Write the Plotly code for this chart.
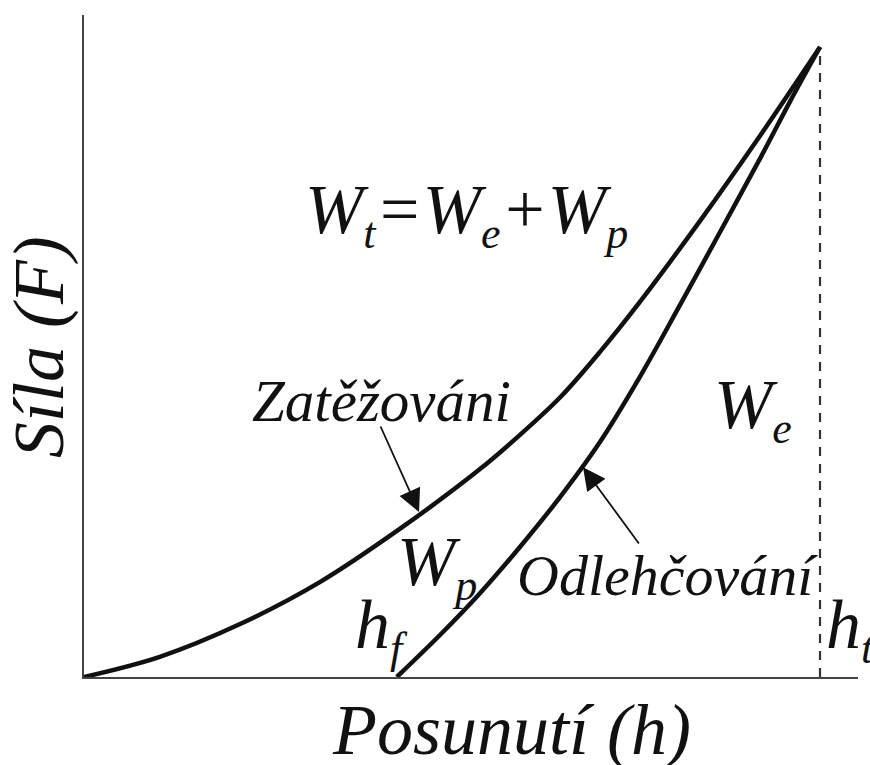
import plotly.graph_objects as go

# Indentation test: force vs. displacement (normalised units)
h_loading = [0.000, 0.103, 0.212, 0.321, 0.429, 0.538, 0.592, 0.647, 0.701,
             0.755, 0.837, 0.919, 1.000]
F_loading = [0.000, 0.032, 0.084, 0.151, 0.235, 0.330, 0.384, 0.444, 0.516,
             0.595, 0.724, 0.860, 1.000]

h_unloading = [0.425, 0.484, 0.538, 0.592, 0.647, 0.701, 0.755, 0.810, 0.864,
               0.919, 0.959, 1.000]
F_unloading = [0.000, 0.067, 0.133, 0.206, 0.286, 0.373, 0.476, 0.591, 0.706,
               0.824, 0.913, 1.000]

h_max = 1.0
F_max = 1.0
X_RANGE = [0, 1.0516]
Y_RANGE = [0, 1.0508]

x_title = "Posunutí (h)"
y_title = "Síla (F)"
loading_label = "Zatěžováni"
unloading_label = "Odlehčování"

SERIF = "Liberation Serif, Times New Roman, serif"
INK = "#111111"
SUB_SIZE = 44


def sub(s):
    return f'<sub><span style="font-size:{SUB_SIZE}px">{s}</span></sub>'


work_formula = f"W{sub('t')}=W{sub('e')}+W{sub('p')}"

fig = go.Figure()

fig.add_trace(go.Scatter(
    x=[h_max, h_max], y=[0, F_max], mode="lines",
    line=dict(color="#333333", width=2.2, dash="9px,8px"),
    hoverinfo="skip", cliponaxis=False))

fig.add_trace(go.Scatter(
    x=h_loading, y=F_loading, mode="lines",
    line=dict(color=INK, width=4.5, shape="spline", smoothing=1.0),
    hoverinfo="skip", cliponaxis=False))

fig.add_trace(go.Scatter(
    x=h_unloading, y=F_unloading, mode="lines",
    line=dict(color=INK, width=4.5, shape="spline", smoothing=1.0),
    hoverinfo="skip", cliponaxis=False))


def label(text, x, y, size, xanchor="left", yanchor="middle", angle=0, ref="data"):
    if ref == "paper":
        xref, yref = "paper", "paper"
    else:
        xref, yref = "x", "y"
    fig.add_annotation(
        text=text, x=x, y=y, xref=xref, yref=yref, showarrow=False,
        xanchor=xanchor, yanchor=yanchor, textangle=angle,
        font=dict(family=SERIF, size=size, color=INK, style="italic"))


label(work_formula, 0.297, 0.734, 70)
label("W" + sub("e"), 0.853, 0.425, 70)
label("W" + sub("p"), 0.423, 0.175, 70)
label("h" + sub("f"), 0.365, 0.075, 70)
label("h" + sub("t"), 1.005, 0.075, 70)
label(loading_label, 0.225, 0.438, 59)
label(unloading_label, 0.586, 0.161, 58)
label(x_title, 0.552, -0.080, 72, xanchor="center", ref="paper")
label(y_title, -0.058, 0.4985, 72, xanchor="center", angle=-90, ref="paper")

# arrows pointing at the two branches
for tip, tail in [((0.4552, 0.2619), (0.402, 0.400)),
                  ((0.678, 0.333), (0.7554, 0.2095))]:
    fig.add_annotation(
        x=tip[0], y=tip[1], ax=tail[0], ay=tail[1],
        xref="x", yref="y", axref="x", ayref="y", text="",
        showarrow=True, arrowhead=2, arrowsize=2.5, arrowwidth=1.8,
        arrowcolor=INK, standoff=0)

fig.update_xaxes(range=X_RANGE, showline=True, linecolor="#444444",
                 linewidth=2, showgrid=False, zeroline=False,
                 showticklabels=False, ticks="")
fig.update_yaxes(range=Y_RANGE, showline=True, linecolor="#444444",
                 linewidth=2, showgrid=False, zeroline=False,
                 showticklabels=False, ticks="")

fig.update_layout(
    width=870, height=765,
    margin=dict(l=84, r=12, t=15, b=88),
    paper_bgcolor="white", plot_bgcolor="white",
    showlegend=False)

fig.write_html("out.html")
